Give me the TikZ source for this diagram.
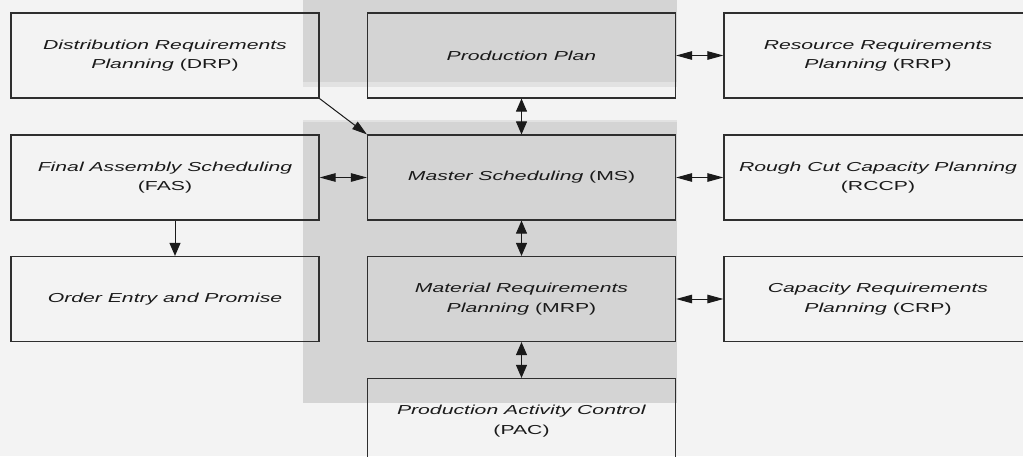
\documentclass[tikz,border=0pt]{standalone}
\usepackage{fontspec}
\setmainfont{Liberation Sans}[FakeStretch=1.63]
\usetikzlibrary{arrows.meta}
\definecolor{bg}{HTML}{F3F3F3}
\definecolor{band}{HTML}{D4D4D4}
\definecolor{bandedge}{HTML}{E2E2E2}
\definecolor{ink}{HTML}{1A1A1A}
\definecolor{frame}{HTML}{2E2E2E}
\tikzset{
  box/.style={draw=frame, line width=1.2pt, minimum width=308pt, minimum height=85pt,
    inner sep=0pt, align=center, text=ink, font=\fontsize{13}{19.5}\selectfont},
  link/.style={draw=ink, line width=1pt},
  harr/.style={link, {Triangle[length=16pt,width=8.5pt]}-{Triangle[length=16pt,width=8.5pt]}},
  varr/.style={link, {Triangle[length=13pt,width=11pt]}-{Triangle[length=13pt,width=11pt]}},
  vone/.style={link, -{Triangle[length=13pt,width=11pt]}},
  done/.style={link, -{Triangle[length=15pt,width=9pt]}}
}
\begin{document}
\begin{tikzpicture}[x=1pt,y=-1pt]
\useasboundingbox (0,0) rectangle (1023,456);
\clip (0,0) rectangle (1023,456);
% page ground and the shaded band behind the central column
\fill[bg] (0,0) rectangle (1023,456);
\fill[band] (303,0) rectangle (677,82);
\fill[bandedge] (303,82) rectangle (677,87);
\fill[bandedge] (303,120) rectangle (677,122);
\fill[band] (303,122) rectangle (677,403);

% left column
\node[box] (drp) at (165,55.5) {\textit{Distribution Requirements}\\\textit{Planning} (DRP)};
\node[box] (fas) at (165,177.5) {\textit{Final Assembly Scheduling}\\(FAS)};
\node[box] (oe)  at (165,299) {\textit{Order Entry and Promise}};
% central column
\node[box] (pp)  at (521.5,55.5) {\textit{Production Plan}};
\node[box] (ms)  at (521.5,177.5) {\textit{Master Scheduling} (MS)};
\node[box] (mrp) at (521.5,299) {\textit{Material Requirements}\\\textit{Planning} (MRP)};
\node[box] (pac) at (521.5,421) {\textit{Production Activity Control}\\(PAC)};
% right column
\node[box] (rrp)  at (878,55.5) {\textit{Resource Requirements}\\\textit{Planning} (RRP)};
\node[box] (rccp) at (878,177.5) {\textit{Rough Cut Capacity Planning}\\(RCCP)};
\node[box] (crp)  at (878,299) {\textit{Capacity Requirements}\\\textit{Planning} (CRP)};

% connectors
\draw[done] (drp.south east) -- (ms.north west);
\draw[harr] (fas.east) -- (ms.west);
\draw[vone] ([xshift=10pt]fas.south) -- ([xshift=10pt]oe.north);
\draw[varr] (pp.south) -- (ms.north);
\draw[varr] (ms.south) -- (mrp.north);
\draw[varr] (mrp.south) -- (pac.north);
\draw[harr] (pp.east) -- (rrp.west);
\draw[harr] (ms.east) -- (rccp.west);
\draw[harr] (mrp.east) -- (crp.west);
\end{tikzpicture}
\end{document}
